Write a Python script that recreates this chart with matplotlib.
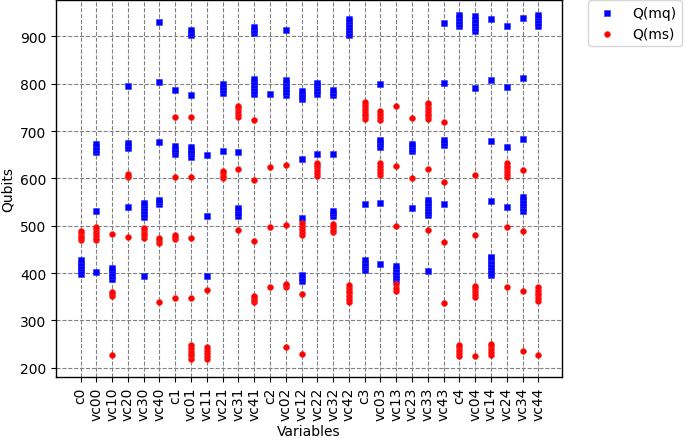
import matplotlib
matplotlib.use("Agg")
import matplotlib.pyplot as plt

categories = ["c0", "vc00", "vc10", "vc20", "vc30", "vc40",
              "c1", "vc01", "vc11", "vc21", "vc31", "vc41",
              "c2", "vc02", "vc12", "vc22", "vc32", "vc42",
              "c3", "vc03", "vc13", "vc23", "vc33", "vc43",
              "c4", "vc04", "vc14", "vc24", "vc34", "vc44"]

# Q(mq) values per category (blue squares)
mq_values = [
    [398, 404, 410, 416, 422, 427],                      # c0
    [655, 661, 667, 672, 531, 403],                      # vc00
    [388, 394, 400, 406, 410],                           # vc10
    [795, 664, 669, 675, 540],                           # vc20
    [519, 525, 531, 537, 543, 547, 394],                 # vc30
    [931, 803, 676, 545, 550, 555],                      # vc40
    [787, 652, 657, 662, 668],                           # c1
    [902, 907, 913, 777, 646, 651, 656, 661, 666],       # vc01
    [649, 521, 393],                                     # vc11
    [781, 787, 793, 799, 658],                           # vc21
    [656, 521, 527, 533, 537],                           # vc31
    [908, 914, 920, 779, 785, 791, 797, 803, 810],       # vc41
    [778],                                               # c2
    [914, 777, 783, 789, 795, 801, 807],                 # vc02
    [767, 772, 778, 784, 642, 516, 383, 389, 395],       # vc12
    [779, 785, 791, 797, 801, 651],                      # vc22
    [776, 781, 786, 651, 521, 526, 531],                 # vc32
    [902, 908, 914, 920, 926, 932, 937],                 # vc42
    [545, 407, 412, 417, 422, 427],                      # c3
    [800, 667, 672, 677, 682, 547, 420],                 # vc03
    [385, 391, 397, 403, 409, 416],                      # vc13
    [658, 663, 668, 673, 538],                           # vc23
    [522, 527, 532, 538, 543, 548, 554, 404],            # vc33
    [928, 801, 670, 675, 681, 546],                      # vc43
    [921, 927, 933, 939, 944],                           # c4
    [911, 917, 923, 929, 935, 942, 791],                 # vc04
    [936, 808, 680, 553, 395, 401, 407, 413, 419, 425, 431, 435],  # vc14
    [922, 794, 666, 539],                                # vc24
    [939, 811, 683, 531, 537, 543, 549, 555, 561],       # vc34
    [922, 928, 934, 940, 945],                           # vc44
]

# Q(ms) values per category (red circles)
ms_values = [
    [469, 474, 479, 484, 489],                           # c0
    [469, 475, 481, 487, 493, 498],                      # vc00
    [482, 351, 356, 360, 227],                           # vc10
    [602, 606, 610, 476],                                # vc20
    [475, 480, 485, 490, 495],                           # vc30
    [464, 469, 474, 338],                                # vc40
    [730, 602, 471, 476, 481, 347],                      # c1
    [730, 602, 474, 347, 218, 224, 230, 236, 242, 249],  # vc01
    [364, 219, 225, 231, 237, 243],                      # vc11
    [601, 606, 611, 615],                                # vc21
    [730, 736, 742, 748, 752, 620, 491],                 # vc31
    [724, 596, 468, 338, 343, 348, 352],                 # vc41
    [625, 498, 371],                                     # c2
    [628, 501, 371, 375, 378, 244],                      # vc02
    [481, 487, 493, 499, 506, 356, 229],                 # vc12
    [605, 611, 617, 623, 629, 632],                      # vc22
    [487, 492, 497, 503],                                # vc32
    [339, 345, 351, 357, 363, 369, 375],                 # vc42
    [725, 731, 737, 743, 749, 755, 761],                 # c3
    [723, 729, 735, 742, 608, 614, 620, 627, 633],       # vc03
    [753, 627, 499, 363, 369, 376],                      # vc13
    [728, 600],                                          # vc23
    [725, 731, 737, 743, 749, 755, 760, 620, 491],       # vc33
    [720, 592, 465, 337],                                # vc43
    [226, 232, 238, 244, 249],                           # c4
    [608, 481, 350, 356, 362, 368, 372, 225],            # vc04
    [228, 234, 240, 246, 250],                           # vc14
    [603, 609, 615, 621, 627, 633, 497, 370],            # vc24
    [618, 489, 362, 235],                                # vc34
    [341, 347, 353, 359, 365, 370, 227],                 # vc44
]

fig = plt.figure(figsize=(6.85, 4.39), dpi=100)
ax = fig.add_axes([0.0818, 0.1396, 0.7387, 0.8592])

mq_x, mq_y, ms_x, ms_y = [], [], [], []
for i, vals in enumerate(mq_values):
    mq_x += [i] * len(vals)
    mq_y += vals
for i, vals in enumerate(ms_values):
    ms_x += [i] * len(vals)
    ms_y += vals

ax.scatter(mq_x, mq_y, marker="s", s=15, color="#0000ff", edgecolors="#3030ff",
           linewidths=0.4, label="Q(mq)", zorder=3)
ax.scatter(ms_x, ms_y, marker="o", s=18, color="#ff0000", edgecolors="#ff3030",
           linewidths=0.4, label="Q(ms)", zorder=3)

ax.set_xticks(range(len(categories)))
ax.set_xticklabels(categories, rotation=90, fontsize=10)
ax.set_yticks([200, 300, 400, 500, 600, 700, 800, 900])
ax.tick_params(axis="y", labelsize=10)
ax.set_xlim(-1.55, 30.5)
ax.set_ylim(181.2, 977.7)

ax.set_axisbelow(True)
ax.grid(True, color="#808080", linestyle="--", linewidth=0.8)
for sp in ax.spines.values():
    sp.set_linewidth(1.0)

ax.set_xlabel("Variables", fontsize=10, labelpad=3)
ax.set_ylabel("Qubits", fontsize=10)

fig.legend(loc="upper left", bbox_to_anchor=(588 / 685, 438 / 439),
           bbox_transform=fig.transFigure, borderaxespad=0, fontsize=10,
           scatterpoints=1)

fig.savefig("out.png", dpi=100)
